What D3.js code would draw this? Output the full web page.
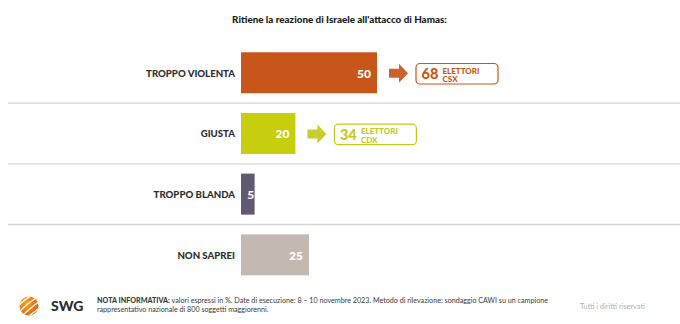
<!DOCTYPE html>
<html>
<head>
<meta charset="utf-8">
<script src="https://cdn.jsdelivr.net/npm/d3@7"></script>
<style>
  html, body { margin: 0; padding: 0; background: #ffffff; }
  svg { display: block; font-family: Lato, "Open Sans", sans-serif; }
</style>
</head>
<body>
<svg id="chart" width="680" height="324"></svg>
<script>
// ---- data ----
const title = "Ritiene la reazione di Israele all'attacco di Hamas:";
const categories = ["TROPPO VIOLENTA", "GIUSTA", "TROPPO BLANDA", "NON SAPREI"];
const values = [50, 20, 5, 25];
const barColors = ["#C8561A", "#C6CE0E", "#615872", "#C3B9B0"];
const calloutValues = [68, 34, null, null];
const calloutLine1 = ["ELETTORI", "ELETTORI", null, null];
const calloutLine2 = ["CSX", "CDX", null, null];
const calloutColors = ["#C8561A", "#C2CB1C", null, null];
const noteBold = "NOTA INFORMATIVA:";
const noteLine1 = " valori espressi in %. Date di esecuzione: 8 – 10 novembre 2023. Metodo di rilevazione: sondaggio CAWI su un campione";
const noteLine2 = "rappresentativo nazionale di 800 soggetti maggiorenni.";
const rights = "Tutti i diritti riservati";
const brand = "SWG";

// ---- setup ----
const svg = d3.select("#chart");
const W = 680, H = 324;

function fitWidth(sel, target) {
  const node = sel.node();
  const fs = parseFloat(sel.attr("font-size"));
  const len = node.getComputedTextLength();
  if (len > 0) sel.attr("font-size", (fs * target / len).toFixed(2));
  return parseFloat(sel.attr("font-size"));
}

const x = d3.scaleLinear().domain([0, 100]).range([241, 513]);
const y = d3.scaleBand().domain(categories).range([42.4, 285.2])
  .paddingInner(0.325).paddingOuter(0.1625);

// title
const t = svg.append("text")
  .attr("x", 339.5).attr("y", 23)
  .attr("text-anchor", "middle")
  .attr("font-size", 11).attr("font-weight", 900)
  .attr("fill", "#1a1a1a")
  .text(title);
fitWidth(t, 215);

// separators
const step = y.step();
const sepYs = categories.slice(1).map(c => y(c) - (step - y.bandwidth()) / 2);
svg.append("g").selectAll("line").data(sepYs).join("line")
  .attr("x1", 8).attr("x2", 680)
  .attr("y1", d => d).attr("y2", d => d)
  .attr("stroke", "#d6d6d6").attr("stroke-width", 1.3);

// bars
svg.append("g").selectAll("rect").data(categories).join("rect")
  .attr("x", x(0))
  .attr("y", d => y(d))
  .attr("width", (d, i) => x(values[i]) - x(0))
  .attr("height", y.bandwidth())
  .attr("fill", (d, i) => barColors[i]);

// category labels
const catG = svg.append("g");
const catLabels = catG.selectAll("text").data(categories).join("text")
  .attr("x", 235)
  .attr("y", d => y(d) + y.bandwidth() / 2 + 4)
  .attr("text-anchor", "end")
  .attr("font-size", 11).attr("font-weight", 900)
  .attr("fill", "#2e2e2e")
  .text(d => d);
const catFs = fitWidth(d3.select(catLabels.nodes()[0]), 89);
catLabels.attr("font-size", catFs);

// value labels
svg.append("g").selectAll("text").data(categories).join("text")
  .attr("x", (d, i) => {
    const w = x(values[i]) - x(0);
    return w < 20 ? x(values[i]) - 0.5 : x(values[i]) - 6;
  })
  .attr("y", d => y(d) + y.bandwidth() / 2 + 5)
  .attr("text-anchor", "end")
  .attr("font-size", 12).attr("font-weight", 900)
  .attr("fill", "#ffffff")
  .text((d, i) => values[i]);

// callouts (arrow + box)
const callG = svg.append("g");
categories.forEach((c, i) => {
  if (calloutValues[i] == null) return;
  const col = calloutColors[i];
  const cy = y(c) + y.bandwidth() / 2 + 0.5;
  const ax = x(values[i]) + 12;
  const aw = 19, sh = 9, hh = 19, hl = 9;
  const path = d3.path();
  path.moveTo(ax, cy - sh / 2);
  path.lineTo(ax + aw - hl, cy - sh / 2);
  path.lineTo(ax + aw - hl, cy - hh / 2);
  path.lineTo(ax + aw, cy);
  path.lineTo(ax + aw - hl, cy + hh / 2);
  path.lineTo(ax + aw - hl, cy + sh / 2);
  path.lineTo(ax, cy + sh / 2);
  path.closePath();
  callG.append("path").attr("d", path.toString()).attr("fill", col).attr("opacity", 0.92);

  const bx = ax + 27, bw = 82, bh = 20.5;
  callG.append("rect")
    .attr("x", bx).attr("y", cy - bh / 2 + 0.5)
    .attr("width", bw).attr("height", bh)
    .attr("rx", 4).attr("ry", 4)
    .attr("fill", "#ffffff").attr("stroke", col).attr("stroke-width", 1.2);
  callG.append("text")
    .attr("x", bx + 5.5).attr("y", cy + 6)
    .attr("font-size", 14.5).attr("font-weight", 900)
    .attr("fill", col)
    .text(calloutValues[i]);
  callG.append("text")
    .attr("x", bx + 26.5).attr("y", cy + 0.5)
    .attr("font-size", 8).attr("font-weight", 900)
    .attr("fill", col)
    .text(calloutLine1[i]);
  callG.append("text")
    .attr("x", bx + 26.5).attr("y", cy + 9)
    .attr("font-size", 8).attr("font-weight", 900)
    .attr("fill", col)
    .text(calloutLine2[i]);
});

// footer logo
const defs = svg.append("defs");
const grad = defs.append("radialGradient").attr("id", "lg")
  .attr("cx", "35%").attr("cy", "35%").attr("r", "70%");
grad.append("stop").attr("offset", "0%").attr("stop-color", "#F7A21B");
grad.append("stop").attr("offset", "100%").attr("stop-color", "#E2620F");
defs.append("clipPath").attr("id", "lc")
  .append("circle").attr("cx", 29).attr("cy", 306).attr("r", 9.5);
const logo = svg.append("g");
logo.append("circle").attr("cx", 29).attr("cy", 306).attr("r", 9.5).attr("fill", "url(#lg)");
const lg = logo.append("g").attr("clip-path", "url(#lc)");
[-6, -1.5, 3, 7.5].forEach(o => {
  lg.append("path")
    .attr("d", `M ${16 + o} ${318 + o * 0.2} Q ${26 + o} ${306 + o} ${42 + o} ${296 + o * 0.4}`)
    .attr("fill", "none").attr("stroke", "#ffffff").attr("stroke-width", 1.4).attr("opacity", 0.95);
});
svg.append("text")
  .attr("x", 51).attr("y", 310.5)
  .attr("font-size", 14).attr("font-weight", 900)
  .attr("fill", "#2d2d2d")
  .text(brand);

// note
const n1 = svg.append("text")
  .attr("x", 97).attr("y", 303.3)
  .attr("font-size", 7).attr("fill", "#3a3a3a");
n1.append("tspan").attr("font-weight", 900).text(noteBold);
n1.append("tspan").text(noteLine1);
const nfs = fitWidth(n1, 451);
svg.append("text")
  .attr("x", 97).attr("y", 312.3)
  .attr("font-size", nfs).attr("fill", "#3a3a3a")
  .text(noteLine2);

const r = svg.append("text")
  .attr("x", 580).attr("y", 309)
  .attr("font-size", 7).attr("fill", "#b0b0b0")
  .text(rights);
fitWidth(r, 65);
</script>
</body>
</html>
